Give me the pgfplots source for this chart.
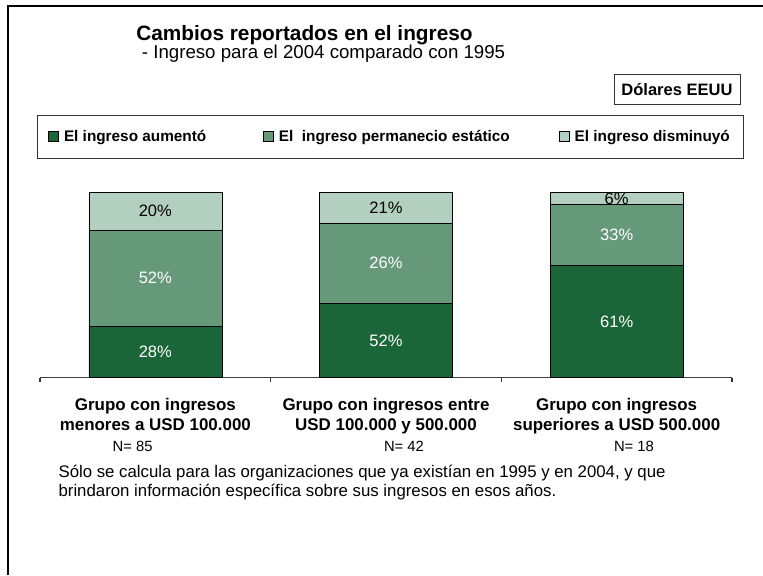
\documentclass[border=0pt]{standalone}
\usepackage{pgfplots}
\pgfplotsset{compat=1.18}
\usepackage{fontspec}
\setmainfont{Liberation Sans}

\definecolor{subio}{HTML}{1B6638}
\definecolor{igual}{HTML}{66997A}
\definecolor{bajo}{HTML}{B3CFBF}

\begin{document}
\begin{tikzpicture}
\useasboundingbox (0,0) rectangle (572.25pt,-431.25pt);
% marco
\draw[line width=2pt] (6pt,-431.25pt) -- (6pt,-4.5pt) -- (572.25pt,-4.5pt);

\begin{axis}[
  at={(30pt,-283.125pt)}, anchor=south west,
  scale only axis, width=519pt, height=138.9pt,
  ybar stacked, bar width=99.75pt,
  xmin=-0.5, xmax=2.5, ymin=0, ymax=100,
  axis y line=none, axis x line*=bottom,
  x axis line style={black!75, line width=0.8pt},
  xtick={0,1,2},
  xticklabels={{Grupo con ingresos\\menores a USD 100.000},
               {Grupo con ingresos entre\\USD 100.000 y 500.000},
               {Grupo con ingresos\\superiores a USD 500.000}},
  xticklabel style={align=center, yshift=-7.5pt,
    font=\fontsize{12.7}{15}\selectfont\bfseries},
  major x tick style={draw=none},
  minor xtick={-0.5,0.5,1.5,2.5},
  minor tick length=3pt,
  tick align=outside,
  minor x tick style={black!80, line width=0.8pt},
  point meta=explicit symbolic,
  nodes near coords={\pgfplotspointmeta},
  nodes near coords style={font=\fontsize{12.4}{14}\selectfont, anchor=center},
  legend columns=3,
  legend cell align=left,
  legend image code/.code={\draw[#1, draw=black, line width=0.4pt] (0pt,-3.75pt) rectangle (7.5pt,3.75pt);
    \path[draw=none, fill=none] (0pt,0pt) -- (9.5pt,0pt);},
  legend style={at={(axis description cs:0,1)}, anchor=north west,
    xshift=-2pt, yshift=58pt, draw=black!80, line width=0.6pt,
    font=\fontsize{11.5}{14}\selectfont\bfseries,
    inner xsep=8pt, inner ysep=9pt,
    /tikz/column 2/.style={column sep=40.75pt},
    /tikz/column 4/.style={column sep=35pt}},
]
\addplot[fill=subio, draw=black, line width=0.4pt,
  every node near coord/.append style={white}] coordinates {
  (0,27.8) [28\%]
  (1,40.0) [52\%]
  (2,60.6) [61\%]
};
\addplot[fill=igual, draw=black, line width=0.4pt,
  every node near coord/.append style={white}] coordinates {
  (0,51.7) [52\%]
  (1,43.4) [26\%]
  (2,32.9) [33\%]
};
\addplot[fill=bajo, draw=black, line width=0.4pt,
  every node near coord/.append style={black}] coordinates {
  (0,20.5) [20\%]
  (1,16.6) [21\%]
  (2,6.5) [6\%]
};
\legend{El ingreso aumentó, El\ \ ingreso permanecio estático, El ingreso disminuyó}
\end{axis}

\begin{scope}[x=0.75pt, y=-0.75pt]
\node[anchor=base west, inner sep=0, font=\fontsize{15.6}{18}\selectfont\bfseries]
  at (136,40) {Cambios reportados en el ingreso};
\node[anchor=base west, inner sep=0, font=\fontsize{14}{17}\selectfont]
  at (141.7,58.5) {- Ingreso para el 2004 comparado con 1995};
\node[draw=black!80, line width=0.6pt, minimum width=94.5pt, minimum height=22.5pt,
  inner sep=0, font=\fontsize{12.4}{14}\selectfont\bfseries] at (677,89.3) {Dólares EEUU};
\node[anchor=base, font=\fontsize{11.1}{13}\selectfont] at (132.7,451.7) {N= 85};
\node[anchor=base, font=\fontsize{11.1}{13}\selectfont] at (404,451.7) {N= 42};
\node[anchor=base, font=\fontsize{11.1}{13}\selectfont] at (634,451.7) {N= 18};
\node[anchor=base west, inner sep=0, font=\fontsize{12.6}{15}\selectfont] at (58.3,477.3)
  {Sólo se calcula para las organizaciones que ya existían en 1995 y en 2004, y que};
\node[anchor=base west, inner sep=0, font=\fontsize{12.6}{15}\selectfont] at (58.3,496.7)
  {brindaron información específica sobre sus ingresos en esos años.};
\end{scope}
\end{tikzpicture}
\end{document}
